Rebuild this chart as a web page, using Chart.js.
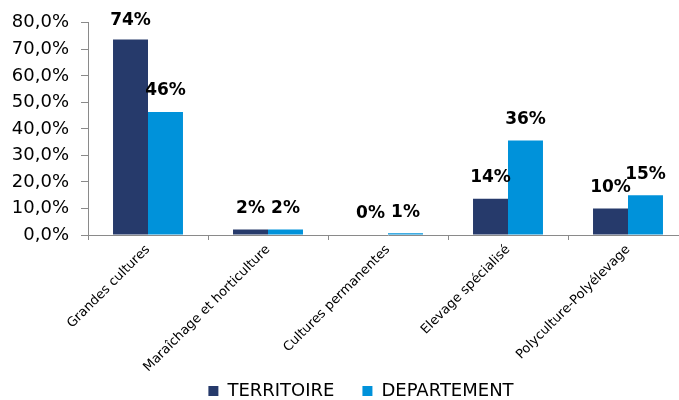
<!DOCTYPE html>
<html>
<head>
<meta charset="utf-8">
<script src="https://cdn.jsdelivr.net/npm/chart.js@4"></script>
<style>
  html, body { margin: 0; padding: 0; background: #fff; overflow: hidden; }
  #wrap { width: 757px; height: 400px; position: relative; }
</style>
</head>
<body>
<div id="wrap"><canvas id="c"></canvas></div>
<script>
const categories = ["Grandes cultures", "Maraîchage et horticulture", "Cultures permanentes", "Elevage spécialisé", "Polyculture-Polyélevage"];
const territoire = [73.7, 2.1, 0, 13.7, 10.0];
const departement = [46.4, 2.1, 0.7, 35.6, 15.0];
const yTicks = [0, 10, 20, 30, 40, 50, 60, 70, 80];
const seriesNames = ["TERRITOIRE", "DEPARTEMENT"];

const FONT = "'DejaVu Sans', Verdana, sans-serif";
const AXIS = '#8a8a8a';

const labelPlugin = {
  id: 'barLabels',
  afterLayout(chart) {
    // nudge the legend to the right, as in the reference
    if (chart.legend) { chart.legend.left += 17; chart.legend.right += 17; }
  },
  beforeDraw(chart) {
    // let rotated category labels run below the axis box (no clipping)
    chart.scales.x._computeLabelArea = () => undefined;
  },
  afterDatasetsDraw(chart) {
    const ctx = chart.ctx;
    ctx.save();
    ctx.font = "bold 17px " + FONT;
    ctx.fillStyle = '#000';
    ctx.textAlign = 'center';
    ctx.textBaseline = 'middle';
    chart.data.datasets.forEach((ds, di) => {
      const meta = chart.getDatasetMeta(di);
      meta.data.forEach((bar, i) => {
        const y = Math.max(bar.y - 21, 21);
        ctx.fillText(Math.round(ds.data[i]) + '%', bar.x, y);
      });
    });
    ctx.restore();
  }
};

new Chart(document.getElementById('c'), {
  type: 'bar',
  data: {
    labels: categories,
    datasets: [
      { label: seriesNames[0], data: territoire, backgroundColor: '#263A6B', categoryPercentage: 0.583, barPercentage: 1.0 },
      { label: seriesNames[1], data: departement, backgroundColor: '#0092DA', categoryPercentage: 0.583, barPercentage: 1.0 }
    ]
  },
  options: {
    responsive: true,
    maintainAspectRatio: false,
    animation: false,
    layout: { padding: { top: 18, right: 69, bottom: -10, left: 0 } },
    plugins: {
      legend: {
        position: 'bottom',
        labels: {
          boxWidth: 10, boxHeight: 10, padding: 28,
          color: '#000',
          font: { family: FONT, size: 18 }
        }
      },
      tooltip: { enabled: false }
    },
    scales: {
      x: {
        grid: { display: true, offset: true, drawOnChartArea: false, drawTicks: true, tickLength: 5, color: AXIS },
        border: { display: true, color: AXIS, width: 1 },
        ticks: { minRotation: 45, maxRotation: 45, color: '#000', font: { family: FONT, size: 13 }, padding: 2 },
        afterFit(scale) { scale.height = 119; }
      },
      y: {
        min: 0, max: 80,
        afterBuildTicks(scale) { scale.ticks = yTicks.map(v => ({ value: v })); },
        grid: { display: true, drawOnChartArea: false, drawTicks: true, tickLength: 7, color: AXIS },
        border: { display: true, color: AXIS, width: 1 },
        ticks: {
          color: '#000', padding: 12,
          font: { family: FONT, size: 18 },
          callback: (v) => v.toFixed(1).replace('.', ',') + '%'
        },
        afterFit(scale) { scale.width = 88; }
      }
    }
  },
  plugins: [labelPlugin]
});
</script>
</body>
</html>
